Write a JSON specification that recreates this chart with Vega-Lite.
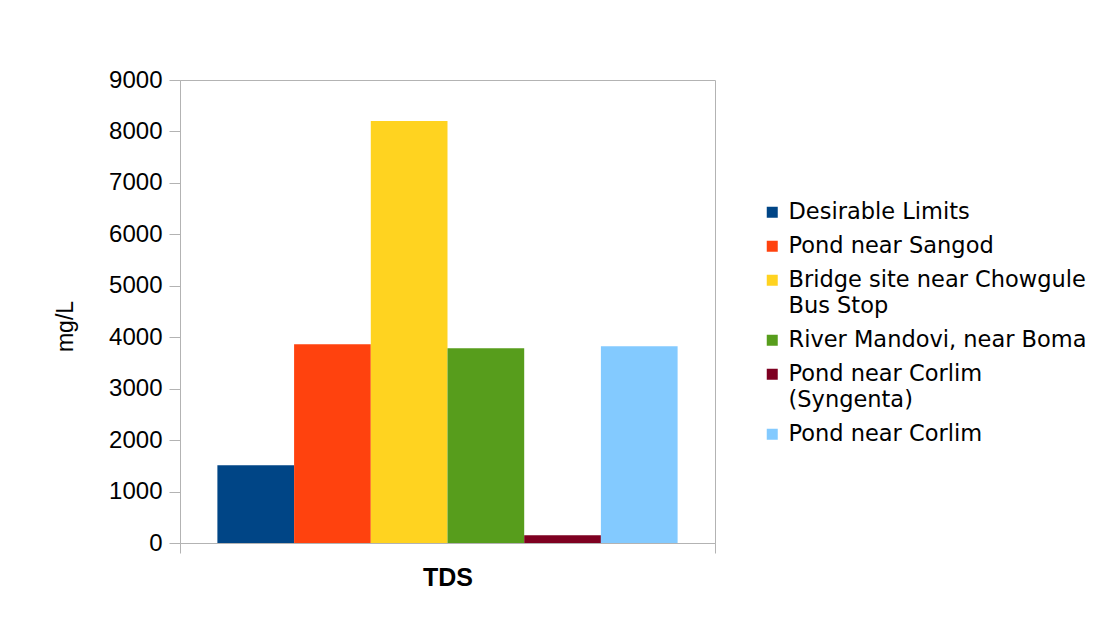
{
  "$schema": "https://vega.github.io/schema/vega-lite/v6.json",
  "width": 535,
  "height": 463,
  "autosize": {"type": "none"},
  "padding": {"left": 180, "top": 80, "right": 391, "bottom": 92},
  "background": "white",
  "data": {
    "values": [
      {"parameter": "TDS", "site": "Desirable Limits", "value": 1510},
      {"parameter": "TDS", "site": "Pond near Sangod", "value": 3865},
      {"parameter": "TDS", "site": "Bridge site near Chowgule Bus Stop", "value": 8203},
      {"parameter": "TDS", "site": "River Mandovi, near Boma", "value": 3787},
      {"parameter": "TDS", "site": "Pond near Corlim (Syngenta)", "value": 150},
      {"parameter": "TDS", "site": "Pond near Corlim", "value": 3826}
    ]
  },
  "mark": {"type": "bar"},
  "encoding": {
    "x": {
      "field": "parameter",
      "type": "nominal",
      "scale": {"paddingInner": 0, "paddingOuter": 0},
      "axis": {
        "title": null,
        "labelAngle": 0,
        "labelFont": "Liberation Sans",
        "labelFontSize": 25,
        "labelFontWeight": "bold",
        "labelColor": "black",
        "tickBand": "extent",
        "tickSize": 10,
        "tickColor": "#b3b3b3",
        "domainColor": "#b3b3b3",
        "labelPadding": 12
      }
    },
    "xOffset": {
      "field": "site",
      "type": "nominal",
      "sort": ["Desirable Limits", "Pond near Sangod", "Bridge site near Chowgule Bus Stop", "River Mandovi, near Boma", "Pond near Corlim (Syngenta)", "Pond near Corlim"],
      "scale": {"paddingInner": 0, "paddingOuter": 0.4875}
    },
    "y": {
      "field": "value",
      "type": "quantitative",
      "scale": {"domain": [0, 9000], "nice": false},
      "axis": {
        "values": [0, 1000, 2000, 3000, 4000, 5000, 6000, 7000, 8000, 9000],
        "format": "d",
        "grid": false,
        "title": "mg/L",
        "titleFont": "Liberation Sans",
        "titleFontSize": 23,
        "titleFontWeight": "normal",
        "titleColor": "black",
        "titleX": -108,
        "titleY": 246,
        "titleBaseline": "alphabetic",
        "labelFont": "Liberation Sans",
        "labelFontSize": 24,
        "labelColor": "black",
        "labelPadding": 7,
        "tickSize": 11,
        "tickColor": "#b3b3b3",
        "domainColor": "#b3b3b3"
      }
    },
    "color": {
      "field": "site",
      "type": "nominal",
      "scale": {
        "domain": ["Desirable Limits", "Pond near Sangod", "Bridge site near Chowgule Bus Stop", "River Mandovi, near Boma", "Pond near Corlim (Syngenta)", "Pond near Corlim"],
        "range": ["#004586", "#ff420e", "#ffd320", "#579d1c", "#7e0021", "#83caff"]
      },
      "legend": {
        "title": null,
        "orient": "none",
        "legendX": 581,
        "legendY": 121,
        "padding": 0,
        "symbolType": "square",
        "symbolSize": 121,
        "symbolStrokeWidth": 0,
        "labelFont": "DejaVu Sans",
        "labelFontSize": 22.5,
        "labelColor": "black",
        "labelOffset": 5,
        "labelLimit": 500,
        "rowPadding": 11,
        "labelExpr": "datum.label == 'Bridge site near Chowgule Bus Stop' ? ['Bridge site near Chowgule', 'Bus Stop'] : datum.label == 'Pond near Corlim (Syngenta)' ? ['Pond near Corlim', '(Syngenta)'] : datum.label"
      }
    }
  },
  "config": {
    "view": {"stroke": "#b3b3b3", "strokeWidth": 1},
    "style": {"guide-label": {"lineHeight": 26}}
  }
}
